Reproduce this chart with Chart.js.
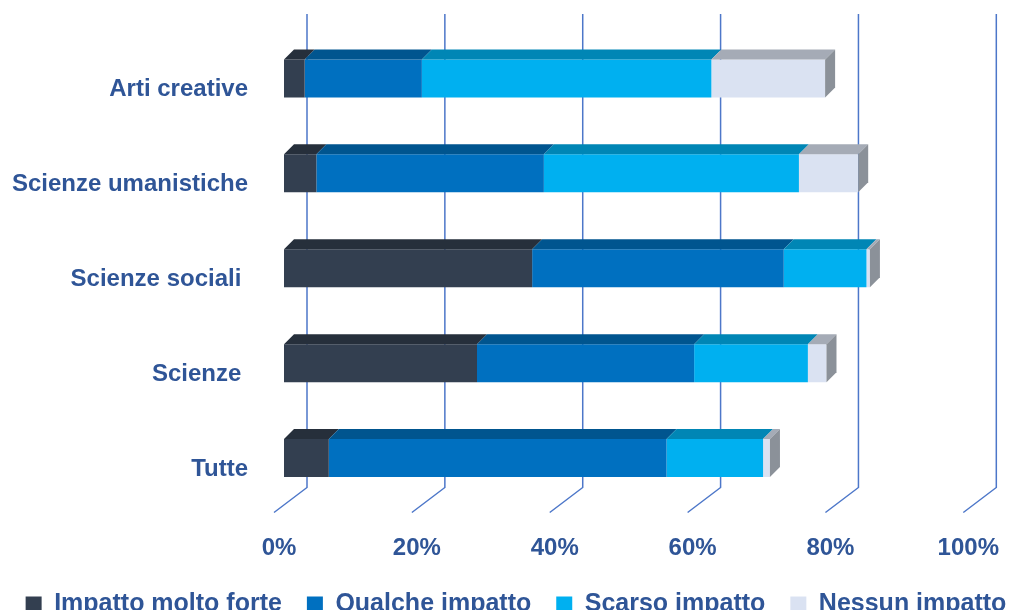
<!DOCTYPE html>
<html>
<head>
<meta charset="utf-8">
<script src="https://cdn.jsdelivr.net/npm/chart.js@4.4.1/dist/chart.umd.min.js"></script>
<style>
  html, body { margin: 0; padding: 0; background: #fff; overflow: hidden; }
  #wrap { width: 1032px; height: 627px; }
</style>
</head>
<body>
<div id="wrap"><canvas id="impactChart"></canvas></div>
<script>
// data (percent of respondents)
const categories = ['Arti creative', 'Scienze umanistiche', 'Scienze sociali ', 'Scienze ', 'Tutte'];
const seriesNames = ['Impatto molto forte', 'Qualche impatto', 'Scarso impatto', 'Nessun impatto'];
const moltoForte = [3, 4.7, 36, 28, 6.5];
const qualche = [17, 33, 36.5, 31.5, 49];
const scarso = [42, 37, 12, 16.5, 14];
const nessuno = [16.5, 8.6, 0.5, 2.7, 1];
const xTicks = [0, 20, 40, 60, 80, 100];

const frontColours = ['#333F50', '#0070C0', '#00B0F0', '#DAE2F2'];
const topColours = ['#262F3B', '#00558F', '#0086B5', '#A5ABB6'];
const sideColour = '#8B9199';
const gridColour = '#4D77C9';
const textColour = '#2F5597';
const DEPTH = 10;

const font = { family: "'Liberation Sans', Arial, sans-serif", size: 24, weight: 'bold' };

function drawWall(chart) {
    const ctx = chart.ctx;
    const xs = chart.scales.x;
    const area = chart.chartArea;
    ctx.save();
    ctx.strokeStyle = gridColour;
    ctx.lineWidth = 1.5;
    xTicks.forEach(v => {
        const bx = xs.getPixelForValue(v) + 23;
        ctx.beginPath();
        ctx.moveTo(bx, area.top - 17);
        ctx.lineTo(bx, area.bottom - 18);
        ctx.lineTo(bx - 33, area.bottom + 7);
        ctx.stroke();
    });
    ctx.restore();
}

function drawFaces(chart) {
    const ctx = chart.ctx;
    const last = chart.data.datasets.length - 1;
    ctx.save();
    chart.data.datasets.forEach((ds, i) => {
        chart.getDatasetMeta(i).data.forEach(bar => {
            const p = bar.getProps(['x', 'y', 'base', 'height'], true);
            const top = p.y - p.height / 2;
            const bottom = p.y + p.height / 2;

            ctx.fillStyle = topColours[i];
            ctx.beginPath();
            ctx.moveTo(p.base, top);
            ctx.lineTo(p.base + DEPTH, top - DEPTH);
            ctx.lineTo(p.x + DEPTH, top - DEPTH);
            ctx.lineTo(p.x, top);
            ctx.closePath();
            ctx.fill();

            if (i === last) {
                ctx.fillStyle = sideColour;
                ctx.beginPath();
                ctx.moveTo(p.x, top);
                ctx.lineTo(p.x + DEPTH, top - DEPTH);
                ctx.lineTo(p.x + DEPTH, bottom - DEPTH);
                ctx.lineTo(p.x, bottom);
                ctx.closePath();
                ctx.fill();
            }
        });
    });
    ctx.restore();
}

const bars3d = {
    id: 'bars3d',
    beforeDatasetsDraw(chart) { drawWall(chart); },
    afterDatasetsDraw(chart) { drawFaces(chart); }
};

const values = [moltoForte, qualche, scarso, nessuno];

new Chart(document.getElementById('impactChart'), {
    type: 'bar',
    data: {
        labels: categories,
        datasets: values.map((vals, i) => ({
            label: seriesNames[i],
            data: vals,
            backgroundColor: frontColours[i],
            borderWidth: 0,
            barPercentage: 0.4,
            categoryPercentage: 1
        }))
    },
    options: {
        indexAxis: 'y',
        responsive: true,
        maintainAspectRatio: false,
        animation: false,
        layout: { padding: { top: 31, bottom: 0, left: 0, right: 0 } },
        scales: {
            x: {
                stacked: true,
                min: 0,
                max: 100,
                grid: { display: false, drawTicks: false },
                border: { display: false },
                ticks: {
                    stepSize: 20,
                    padding: 28,
                    labelOffset: -5,
                    color: textColour,
                    font: font,
                    callback: v => v + '%'
                },
                afterFit: s => { s.height = 61.5; }
            },
            y: {
                stacked: true,
                grid: { display: false, drawTicks: false },
                border: { display: false },
                ticks: { padding: 36, labelOffset: 11, color: textColour, font: font },
                afterFit: s => {
                    s.width = 284;
                    s.paddingTop = 0;
                    s.paddingBottom = 0;
                }
            },
            yRight: {
                type: 'category',
                position: 'right',
                grid: { display: false, drawTicks: false },
                border: { display: false },
                ticks: { display: false },
                afterFit: s => { s.width = 54; }
            }
        },
        plugins: {
            legend: {
                position: 'bottom',
                labels: {
                    color: textColour,
                    font: { family: font.family, size: 25, weight: 'bold' },
                    boxWidth: 16,
                    boxHeight: 16,
                    padding: 25
                }
            },
            tooltip: { enabled: false }
        }
    },
    plugins: [bars3d]
});
</script>
</body>
</html>
